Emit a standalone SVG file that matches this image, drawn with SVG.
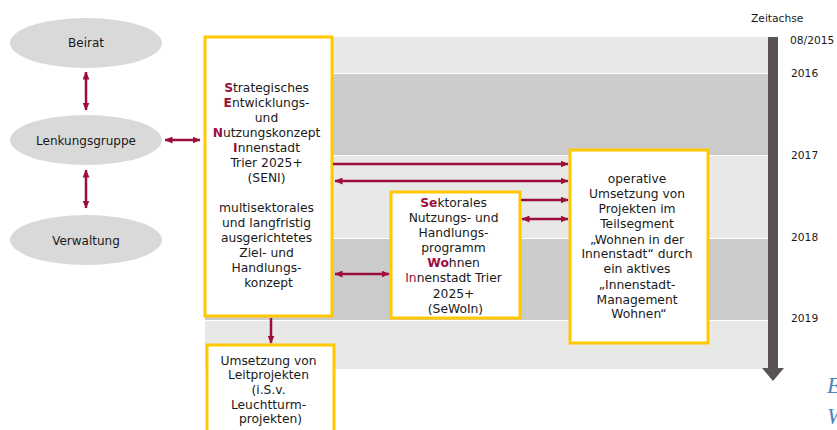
<svg xmlns="http://www.w3.org/2000/svg" width="837" height="430" viewBox="0 0 837 430">
<defs>
<style>
.t{font-family:"DejaVu Sans",Verdana,sans-serif;font-size:12.3px;fill:#1a1a1a;text-anchor:middle}
.e{font-family:"DejaVu Sans",Verdana,sans-serif;font-size:12px;fill:#1a1a1a;text-anchor:middle}
.y{font-family:"DejaVu Sans",Verdana,sans-serif;font-size:10.7px;fill:#1a1a1a}
.r{fill:#9b0e3e;font-weight:bold}
.ri{fill:#9b0e3e}
.box{fill:#fff;stroke:#ffc800;stroke-width:3}
.ell{fill:#d9d9d9}
.c{stroke:#9b0e3e;stroke-width:2.5;fill:none}
.lt{fill:#e8e8e6}
.dk{fill:#cbcbcb}
</style>
<marker id="ah" viewBox="0 0 8 7" refX="7.5" refY="3.5" markerWidth="8" markerHeight="7" markerUnits="userSpaceOnUse" orient="auto-start-reverse">
<path d="M0,0 L8,3.5 L0,7 z" fill="#9b0e3e"/>
</marker>
</defs>
<rect width="837" height="430" fill="#fff"/>
<g id="timeline">
<rect class="lt" x="205" y="37" width="563" height="36"/>
<rect class="dk" x="205" y="74" width="563" height="81"/>
<rect class="lt" x="205" y="156" width="563" height="82"/>
<rect class="dk" x="205" y="239" width="563" height="81"/>
<rect class="lt" x="205" y="321" width="563" height="48"/>
<rect x="768" y="37" width="10" height="332" fill="#595353"/>
<polygon points="762,368 784,368 773,381" fill="#595353"/>
<text class="y" x="751" y="22">Zeitachse</text>
<text class="y" x="790" y="44">08/2015</text>
<text class="y" x="791" y="77">2016</text>
<text class="y" x="791" y="159">2017</text>
<text class="y" x="791" y="241">2018</text>
<text class="y" x="791" y="322">2019</text>
</g>
<g id="beirat"><ellipse class="ell" cx="86" cy="43" rx="76" ry="25"/><text class="e" x="86" y="47">Beirat</text></g>
<g id="lenkungsgruppe"><ellipse class="ell" cx="86" cy="140" rx="76" ry="25"/><text class="e" x="86" y="144.5">Lenkungsgruppe</text></g>
<g id="verwaltung"><ellipse class="ell" cx="86" cy="240" rx="76" ry="25"/><text class="e" x="86" y="244.5">Verwaltung</text></g>
<g id="seni">
<rect class="box" x="205" y="37" width="127" height="279"/>
<text class="t">
<tspan x="268.5" y="91.5"><tspan class="r">S</tspan>trategisches</tspan>
<tspan x="268.5" y="106.5"><tspan class="r">E</tspan>ntwicklungs-</tspan>
<tspan x="268.5" y="121.5">und</tspan>
<tspan x="268.5" y="136.5"><tspan class="r">N</tspan>utzungskonzept</tspan>
<tspan x="268.5" y="151.5"><tspan class="r">I</tspan>nnenstadt</tspan>
<tspan x="268.5" y="166.5">Trier 2025+</tspan>
<tspan x="268.5" y="181.5">(SENI)</tspan>
<tspan x="268.5" y="212">multisektorales</tspan>
<tspan x="268.5" y="227">und langfristig</tspan>
<tspan x="268.5" y="242">ausgerichtetes</tspan>
<tspan x="268.5" y="257">Ziel- und</tspan>
<tspan x="268.5" y="272">Handlungs-</tspan>
<tspan x="268.5" y="287">konzept</tspan>
</text>
</g>
<g id="sewoin">
<rect class="box" x="391" y="192" width="129" height="126"/>
<text class="t">
<tspan x="455.5" y="207"><tspan class="r">Se</tspan>ktorales</tspan>
<tspan x="455.5" y="222">Nutzungs- und</tspan>
<tspan x="455.5" y="236.5">Handlungs-</tspan>
<tspan x="455.5" y="251.5">programm</tspan>
<tspan x="455.5" y="266.5"><tspan class="r">Wo</tspan>hnen</tspan>
<tspan x="455.5" y="282"><tspan class="ri">In</tspan>nenstadt Trier</tspan>
<tspan x="455.5" y="297.5">2025+</tspan>
<tspan x="455.5" y="312.5">(SeWoIn)</tspan>
</text>
</g>
<g id="operativ">
<rect class="box" x="570" y="150" width="138" height="193"/>
<text class="t">
<tspan x="639" y="182.5">operative</tspan>
<tspan x="639" y="197.5">Umsetzung von</tspan>
<tspan x="639" y="213">Projekten im</tspan>
<tspan x="639" y="228">Teilsegment</tspan>
<tspan x="639" y="243.5">„Wohnen in der</tspan>
<tspan x="639" y="258">Innenstadt“ durch</tspan>
<tspan x="639" y="273">ein aktives</tspan>
<tspan x="639" y="288.5">„Innenstadt-</tspan>
<tspan x="639" y="303.5">Management</tspan>
<tspan x="639" y="318">Wohnen“</tspan>
</text>
</g>
<g id="leitprojekte">
<rect class="box" x="207" y="345" width="127" height="100"/>
<text class="t">
<tspan x="270.5" y="364.5">Umsetzung von</tspan>
<tspan x="270.5" y="379">Leitprojekten</tspan>
<tspan x="270.5" y="393.5">(i.S.v.</tspan>
<tspan x="270.5" y="408.5">Leuchtturm-</tspan>
<tspan x="270.5" y="423">projekten)</tspan>
</text>
</g>
<g id="connectors">
<line class="c" x1="86" y1="72" x2="86" y2="110" marker-start="url(#ah)" marker-end="url(#ah)"/>
<line class="c" x1="86" y1="170" x2="86" y2="208" marker-start="url(#ah)" marker-end="url(#ah)"/>
<line class="c" x1="165" y1="140" x2="200" y2="140" marker-start="url(#ah)" marker-end="url(#ah)"/>
<line class="c" x1="333" y1="164" x2="568" y2="164" marker-end="url(#ah)"/>
<line class="c" x1="335" y1="181" x2="568" y2="181" marker-start="url(#ah)" marker-end="url(#ah)"/>
<line class="c" x1="521" y1="200" x2="568" y2="200" marker-end="url(#ah)"/>
<line class="c" x1="522" y1="219" x2="568" y2="219" marker-start="url(#ah)" marker-end="url(#ah)"/>
<line class="c" x1="335" y1="274" x2="389" y2="274" marker-start="url(#ah)" marker-end="url(#ah)"/>
<line class="c" x1="271" y1="318" x2="271" y2="343" marker-end="url(#ah)"/>
</g>
<g id="fragments" font-family="'Liberation Serif',serif" font-style="italic" font-size="23" fill="#4f86b5">
<text x="827" y="393">E</text>
<text x="827" y="424">W</text>
</g>
</svg>
